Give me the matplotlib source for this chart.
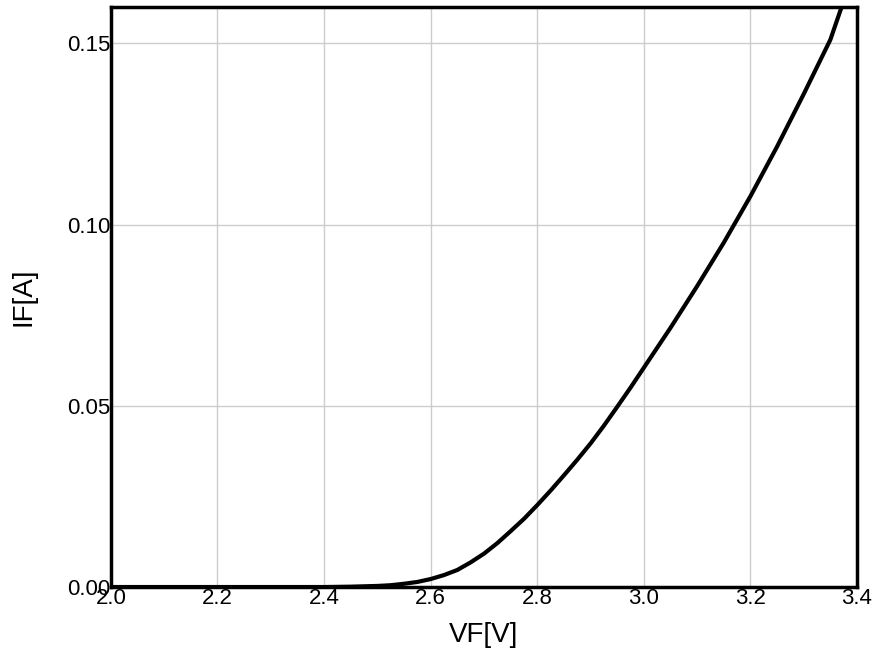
import matplotlib
matplotlib.use('Agg')
import matplotlib.pyplot as plt

# forward voltage vs forward current
vf = [2.0, 2.2, 2.4, 2.45, 2.5, 2.525, 2.55, 2.575, 2.6, 2.625, 2.65, 2.675,
      2.7, 2.725, 2.75, 2.775, 2.8, 2.825, 2.85, 2.875, 2.9, 2.925, 2.95,
      2.975, 3.0, 3.05, 3.1, 3.15, 3.2, 3.25, 3.3, 3.35, 3.371]
i_f = [0.0, 0.0, 0.0, 0.0001, 0.0003, 0.0005, 0.0009, 0.0014, 0.0022, 0.0033,
       0.0047, 0.0068, 0.0092, 0.0121, 0.0154, 0.0188, 0.0226, 0.0266, 0.0308,
       0.0351, 0.0396, 0.0445, 0.0497, 0.055, 0.0605, 0.0715, 0.083, 0.095,
       0.1078, 0.1215, 0.136, 0.151, 0.160]

xticks = [2.0, 2.2, 2.4, 2.6, 2.8, 3.0, 3.2, 3.4]
yticks = [0.00, 0.05, 0.10, 0.15]

plt.rcParams['font.family'] = ['Liberation Sans', 'DejaVu Sans']

fig = plt.figure(figsize=(8.73, 6.57), dpi=100)
ax = fig.add_axes([0.127, 0.1065, 0.8547, 0.8828])

ax.plot(vf, i_f, color='black', linewidth=3.0, solid_joinstyle='round', zorder=3)

ax.set_xlim(2.0, 3.4)
ax.set_ylim(0.0, 0.16)
ax.set_xticks(xticks)
ax.set_xticklabels([f'{t:.1f}' for t in xticks])
ax.set_yticks(yticks)
ax.set_yticklabels([f'{t:.2f}' for t in yticks])
ax.tick_params(axis='both', length=0, labelsize=16, colors='black')
ax.tick_params(axis='x', pad=1)
ax.tick_params(axis='y', pad=0)

ax.grid(True, color='#cccccc', linewidth=1.0)
ax.set_axisbelow(True)
for s in ax.spines.values():
    s.set_linewidth(2.5)
    s.set_color('black')

ax.set_xlabel('VF[V]', fontsize=20, labelpad=9)
ax.set_ylabel('IF[A]', fontsize=20, labelpad=22)

fig.savefig('out.png', dpi=100)
